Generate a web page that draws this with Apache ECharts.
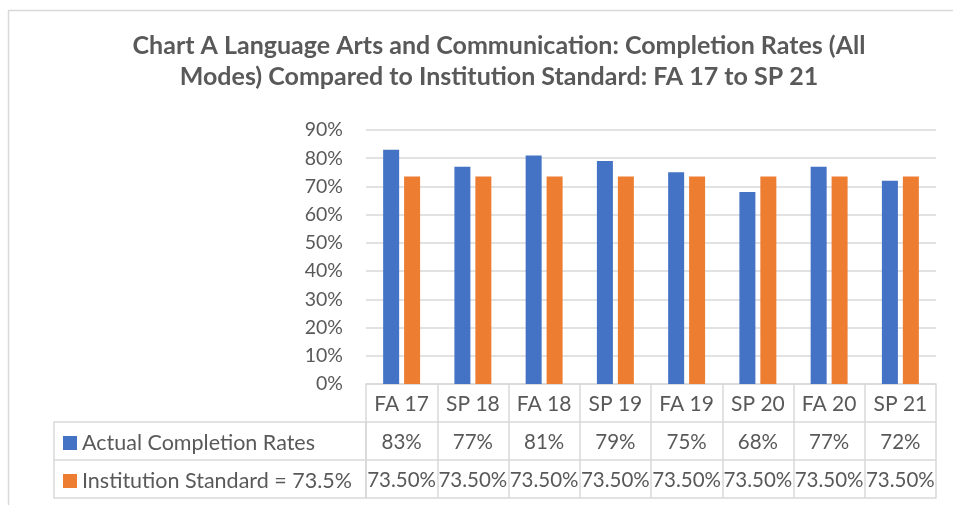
<!DOCTYPE html>
<html><head><meta charset="utf-8">
<script src="https://cdn.jsdelivr.net/npm/echarts@6/dist/echarts.min.js"></script>
<style>html,body{margin:0;padding:0;background:#fff}#c{width:953px;height:505px}</style>
</head><body><div id="c"></div>
<script>
const categories = ['FA 17','SP 18','FA 18','SP 19','FA 19','SP 20','FA 20','SP 21'];
const actualRates = [83, 77, 81, 79, 75, 68, 77, 72];
const institutionStandard = [73.5, 73.5, 73.5, 73.5, 73.5, 73.5, 73.5, 73.5];
const seriesNames = ['Actual Completion Rates', 'Institution Standard = 73.5%'];
const titleText = 'Chart A Language Arts and Communication: Completion Rates (All\nModes) Compared to Institution Standard: FA 17 to SP 21';

const FONT = 'Lato';
const TXT = '#595959';
const LINE = '#d9d9d9';
const ROW = 38;

const chart = echarts.init(document.getElementById('c'));
function tableAxis(offset, formatter, showLabel, showTick, fs) {
  return {
    type: 'category', data: categories, position: 'bottom', offset: offset,
    axisLine: {show: true, lineStyle: {color: LINE, width: 1.5}},
    axisTick: {show: showTick, alignWithLabel: false, length: ROW, lineStyle: {color: LINE, width: 1.5}},
    axisLabel: {show: showLabel, formatter: formatter, fontFamily: FONT, fontSize: fs, color: TXT,
      margin: (ROW - fs) / 2 + 1, interval: 0},
    splitLine: {show: false}
  };
}
function legendAt(name, top) {
  return {
    orient: 'horizontal', left: 63, top: top, padding: 0,
    itemWidth: 14, itemHeight: 14, itemGap: 0, icon: 'rect',
    textStyle: {fontFamily: FONT, fontSize: 21.5, color: TXT, padding: [0,0,0,0]},
    data: [name]
  };
}
chart.setOption({
  animation: false,
  textStyle: {fontFamily: FONT},
  title: {
    text: titleText, left: 494, top: 25, textAlign: 'center',
    textStyle: {fontFamily: FONT, fontSize: 25, fontWeight: 'bold', color: TXT, lineHeight: 31}
  },
  legend: [legendAt(seriesNames[0], 432), legendAt(seriesNames[1], 470)],
  grid: {left: 366, right: 17, top: 130, bottom: 121, containLabel: false},
  xAxis: [
    tableAxis(0, v => v, true, true, 21),
    tableAxis(ROW, (v, i) => actualRates[i] + '%', true, true, 20.5),
    tableAxis(ROW * 2, (v, i) => institutionStandard[i].toFixed(2) + '%', true, true, 20.5),
    tableAxis(ROW * 3, v => '', false, false, 20)
  ],
  yAxis: {
    type: 'value', min: 0, max: 90, interval: 10,
    axisLine: {show: false}, axisTick: {show: false},
    axisLabel: {formatter: '{value}%', fontFamily: FONT, fontSize: 19.5, color: TXT, margin: 23},
    splitLine: {lineStyle: {color: LINE, width: 1.5}}
  },
  series: [
    {name: seriesNames[0], type: 'bar', data: actualRates, barWidth: 16, barGap: '31%',
     itemStyle: {color: '#4472c4'}},
    {name: seriesNames[1], type: 'bar', data: institutionStandard, barWidth: 16, barGap: '31%',
     itemStyle: {color: '#ed7d31'}}
  ],
  graphic: [
    {type: 'rect', shape: {x: 8.5, y: 10.5, width: 960, height: 510}, style: {fill: null, stroke: LINE, lineWidth: 1.5}, silent: true},
    {type: 'rect', shape: {x: 54, y: 422, width: 312, height: 76}, style: {fill: null, stroke: LINE, lineWidth: 1.5}, silent: true},
    {type: 'line', shape: {x1: 54, y1: 460, x2: 366, y2: 460}, style: {stroke: LINE, lineWidth: 1.5}, silent: true}
  ]
});
</script></body></html>
